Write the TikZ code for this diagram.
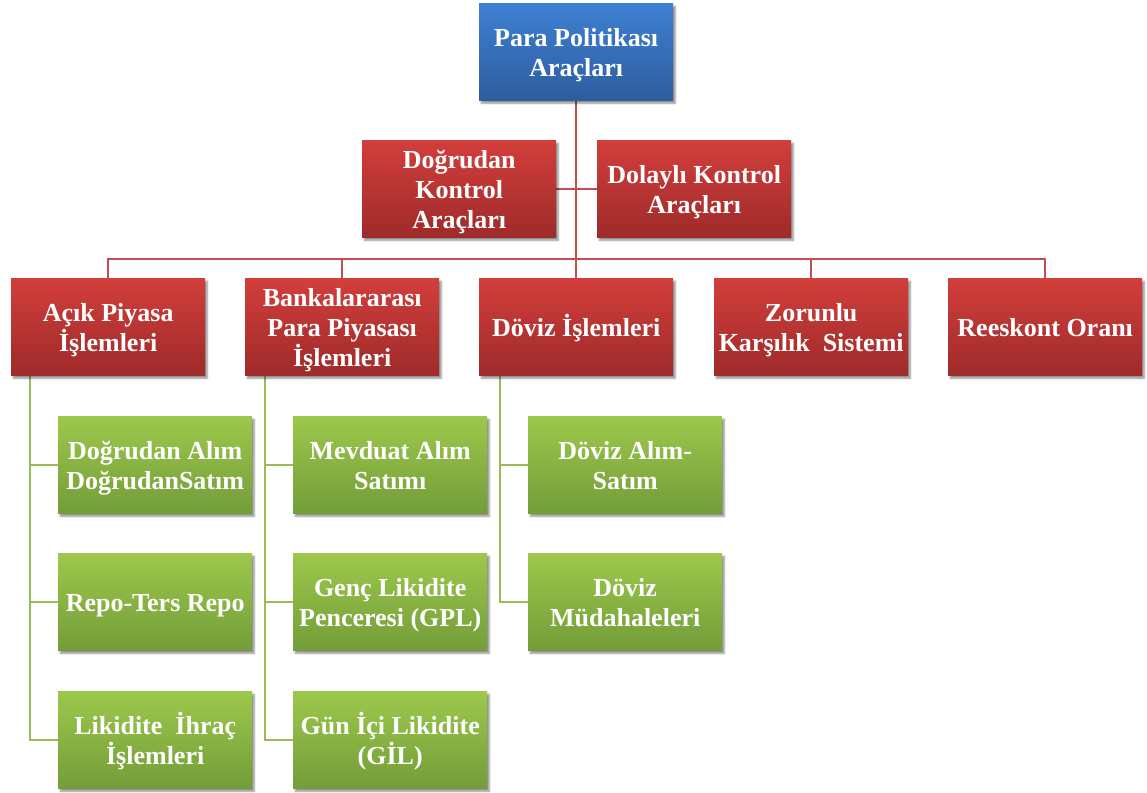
\documentclass[tikz,border=0pt]{standalone}
\usepackage{fontspec}
\setmainfont{Liberation Serif}[BoldFont={Liberation Serif Bold}]
\newfontfamily\boxfont{Liberation Serif Bold}
\usetikzlibrary{shadows.blur,backgrounds}
\newcommand\ls{\rule[-6pt]{0pt}{30pt}}
\definecolor{redT}{HTML}{D23E3B}
\definecolor{redB}{HTML}{9E2B2A}
\definecolor{bluT}{HTML}{3F80D2}
\definecolor{bluB}{HTML}{2D5D9E}
\definecolor{grnT}{HTML}{9DC84C}
\definecolor{grnB}{HTML}{739D39}
\definecolor{redL}{HTML}{C0504D}
\definecolor{grnL}{HTML}{9BBB59}
\tikzset{
  lbl/.style={align=center, text=white, inner sep=0pt, yshift=-0.5pt,
    font=\boxfont\fontsize{26}{30}\selectfont},
  box/.style={anchor=north west, minimum width=194pt, minimum height=97pt, inner sep=0pt,
    label={[lbl]center:{#1}},
    blur shadow={shadow xshift=2pt, shadow yshift=-3pt, shadow blur steps=6, shadow opacity=45}},
  redbox/.style={box={#1}, top color=redT, bottom color=redB},
  blubox/.style={box={#1}, top color=bluT, bottom color=bluB},
  grnbox/.style={box={#1}, top color=grnT, bottom color=grnB},
  redline/.style={draw=redL, line width=1.6pt},
  grnline/.style={draw=grnL, line width=2pt},
}
\begin{document}
\begin{tikzpicture}[x=1pt,y=-1pt]
\useasboundingbox (0,0) rectangle (1147,792);
\coordinate (busY) at (576,259);
\coordinate (g1) at (30,0);
\coordinate (g2) at (265,0);
\coordinate (g3) at (500,0);

\node[blubox={\ls Para Politikası\\\ls Araçları}] (top) at (479,3) {};
\node[redbox={\ls Doğrudan\\\ls Kontrol\\\ls Araçları}] (dog) at (362,140) {};
\node[redbox={\ls Dolaylı Kontrol\\\ls Araçları}] (dol) at (597,140) {};

\node[redbox={\ls Açık Piyasa\\\ls İşlemleri}] (acik) at (11,278) {};
\node[redbox={\ls Bankalararası\\\ls Para Piyasası\\\ls İşlemleri}] (bank) at (245,278) {};
\node[redbox={\ls Döviz İşlemleri}] (dov) at (479,278) {};
\node[redbox={\ls Zorunlu\\\ls Karşılık~~Sistemi}] (zor) at (714,278) {};
\node[redbox={\ls Reeskont Oranı}] (rees) at (948,278) {};

\node[grnbox={\ls Doğrudan Alım\\\ls DoğrudanSatım}] (a1) at (58,416) {};
\node[grnbox={\ls Repo-Ters Repo}] (a2) at (58,553) {};
\node[grnbox={\ls Likidite~~İhraç\\\ls İşlemleri}] (a3) at (58,691) {};

\node[grnbox={\ls Mevduat Alım\\\ls Satımı}] (b1) at (293,416) {};
\node[grnbox={\ls Genç Likidite\\\ls Penceresi (GPL)}] (b2) at (293,553) {};
\node[grnbox={\ls Gün İçi Likidite\\\ls (GİL)}] (b3) at (293,691) {};

\node[grnbox={\ls Döviz Alım-\\\ls Satım}] (c1) at (528,416) {};
\node[grnbox={\ls Döviz\\\ls Müdahaleleri}] (c2) at (528,553) {};

\begin{scope}[on background layer]
% red connectors
\draw[redline] (top.south) -- (dov.north);
\draw[redline] (dog.east) -- (dol.west);
\draw[redline] (acik.north) |- (busY) -| (rees.north);
\draw[redline] (bank.north) -- (bank.north |- busY);
\draw[redline] (zor.north) -- (zor.north |- busY);
% green connectors
\draw[grnline] (acik.south -| g1) |- (a3.west);
\draw[grnline] (a1.west) -- (a1.west -| g1);
\draw[grnline] (a2.west) -- (a2.west -| g1);
\draw[grnline] (bank.south -| g2) |- (b3.west);
\draw[grnline] (b1.west) -- (b1.west -| g2);
\draw[grnline] (b2.west) -- (b2.west -| g2);
\draw[grnline] (dov.south -| g3) |- (c2.west);
\draw[grnline] (c1.west) -- (c1.west -| g3);
\end{scope}
\end{tikzpicture}
\end{document}
